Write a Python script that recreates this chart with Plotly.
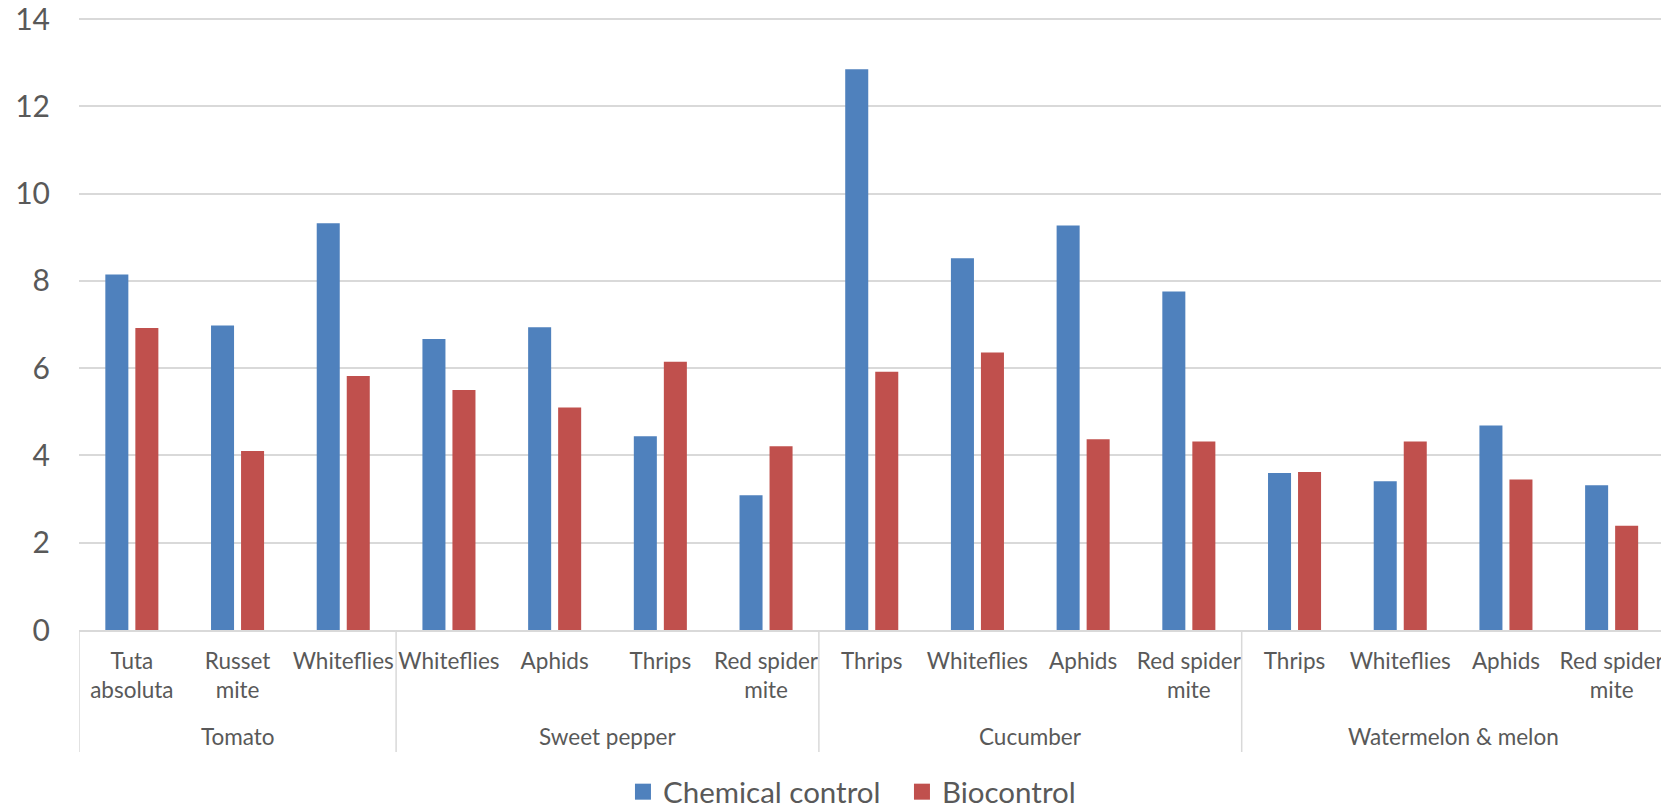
import plotly.graph_objects as go

groups = ["Tomato", "Sweet pepper", "Cucumber", "Watermelon & melon"]
group_sizes = [3, 4, 4, 4]
categories = ["Tuta<br>absoluta", "Russet<br>mite", "Whiteflies",
              "Whiteflies", "Aphids", "Thrips", "Red spider<br>mite",
              "Thrips", "Whiteflies", "Aphids", "Red spider<br>mite",
              "Thrips", "Whiteflies", "Aphids", "Red spider<br>mite"]
chemical = [8.15, 6.98, 9.32, 6.67, 6.94, 4.44, 3.09,
            12.85, 8.52, 9.27, 7.76, 3.60, 3.41, 4.69, 3.32]
biocontrol = [6.92, 4.10, 5.82, 5.50, 5.10, 6.15, 4.21,
              5.92, 6.36, 4.37, 4.32, 3.62, 4.32, 3.45, 2.39]
y_ticks = [0, 2, 4, 6, 8, 10, 12, 14]

series = [("Chemical control", chemical, "#4F81BD", 234),
          ("Biocontrol", biocontrol, "#C0504D", None)]

FONT = "Lato"
GREY = "#595959"
xpos = list(range(len(categories)))

fig = go.Figure()
for name, vals, color, lw in series:
    fig.add_trace(go.Bar(x=xpos, y=vals, name=name, legendgroup=name,
                         showlegend=False,
                         marker=dict(color=color, line=dict(width=0))))
# legend entries with larger square swatches
for name, vals, color, lw in series:
    fig.add_trace(go.Scatter(x=[None], y=[None], mode="markers", name=name,
                             legendgroup=name, hoverinfo="skip",
                             legendwidth=lw,
                             marker=dict(symbol="square", size=18, color=color)))

# group dividers and labels (plot area spans 613 px vertically)
shapes = []
annotations = []
start = 0
bounds = [-0.5]
for g, n in zip(groups, group_sizes):
    center = start + (n - 1) / 2
    annotations.append(dict(x=center, y=-106 / 613, xref="x", yref="paper",
                            text=g, showarrow=False, yanchor="middle",
                            font=dict(family=FONT, size=22.5, color=GREY)))
    start += n
    bounds.append(start - 0.5)
for b in bounds:
    shapes.append(dict(type="line", xref="x", yref="paper", x0=b, x1=b,
                       y0=0, y1=-122 / 613, line=dict(color="#d9d9d9", width=1.5)))

fig.update_layout(
    width=1661, height=808,
    margin=dict(l=79, r=0, t=17, b=178, autoexpand=False),
    plot_bgcolor="white", paper_bgcolor="white",
    barmode="group", bargap=0.432, bargroupgap=0.233,
    shapes=shapes, annotations=annotations,
    showlegend=True,
    legend=dict(orientation="h", x=0.4886, xanchor="center", y=-162 / 613,
                yanchor="middle", font=dict(family=FONT, size=29.5, color=GREY),
                itemwidth=30),
    xaxis=dict(range=[-0.5, 14.467], tickmode="array", tickvals=xpos,
               ticktext=categories, showgrid=False, zeroline=False,
               showline=True, linecolor="#d9d9d9", linewidth=1.5,
               ticks="", ticklabelstandoff=10, tickangle=0,
               ticklabeloverflow="allow", automargin=False,
               tickfont=dict(family=FONT, size=22.5, color=GREY)),
    yaxis=dict(range=[0, 14.05], tickmode="array", tickvals=y_ticks,
               showgrid=True, gridcolor="#d9d9d9", gridwidth=1.5,
               zeroline=False, showline=False, ticks="",
               ticklabelstandoff=28, automargin=False,
               ticklabeloverflow="allow",
               tickfont=dict(family=FONT, size=30, color=GREY)),
)

fig.write_html("out.html", config={"displayModeBar": False},
               post_script="document.body.style.margin='0';"
                           "document.body.style.overflow='hidden';")
